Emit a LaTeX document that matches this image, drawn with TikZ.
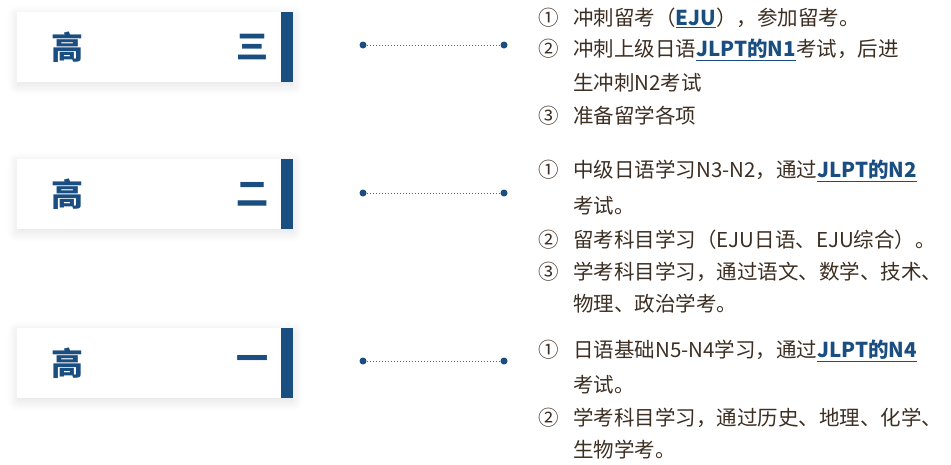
\documentclass[tikz,border=0pt]{standalone}
\usepackage{fontspec}
\setmainfont{Noto Sans CJK SC}
\usetikzlibrary{shadows.blur,positioning}
\definecolor{navy}{HTML}{1A4E80}
\definecolor{ink}{HTML}{3C2E22}
\newcommand{\kw}[1]{\textcolor{navy}{\bfseries\underline{#1}}}
\newcommand{\nr}[1]{\makebox[35pt][l]{#1}}
\begin{document}
\begin{tikzpicture}[x=1pt,y=-1pt,
gradebox/.style={fill=white,minimum width=276pt,minimum height=70pt,anchor=north west,blur shadow={shadow blur steps=12,shadow blur radius=10pt,shadow xshift=0pt,shadow yshift=-3pt,shadow opacity=12}},
gradetext/.style={text=navy,font=\fontsize{32}{32}\selectfont\bfseries},
dotend/.style={circle,fill=navy,inner sep=0pt,minimum size=7pt},
item/.style={anchor=west,text=ink,font=\fontsize{20.5}{20.5}\selectfont,inner sep=0pt}]
\useasboundingbox (0,0) rectangle (951,464);
\clip (0,0) rectangle (951,464);
% grade boxes
\foreach \name/\num/\y/\ly in {g3/三/12/45, g2/二/159/193, g1/一/328/361}{
  \node[gradebox] (\name) at (17,\y) {};
  \fill[navy] (281,\y) rectangle ++(12,70);
  \node[gradetext] at (67,\y+35) {高};
  \node[gradetext] at (252,\y+35) {\num};
  \node[dotend] (\name l) at (363,\ly) {};
  \node[dotend] (\name r) at (504,\ly) {};
  \draw[navy!80,dotted,line width=1pt] (\name l) -- (\name r);
}
% items, senior 3
\node[item] (a1) at (538,18) {\nr{①}冲刺留考（\kw{EJU}），参加留考。};
\node[item] (a2) at (538,50) {\nr{②}冲刺上级日语\kw{JLPT的N1}考试，后进};
\node[item] (a3) at (573,83) {生冲刺N2考试};
\node[item] (a4) at (538,116) {\nr{③}准备留学各项};
% senior 2
\node[item] (b1) at (538,171) {\nr{①}中级日语学习N3-N2，通过\kw{JLPT的N2}};
\node[item] (b2) at (573,206) {考试。};
\node[item] (b3) at (538,240) {\nr{②}留考科目学习（EJU日语、EJU综合）。};
\node[item] (b4) at (538,272) {\nr{③}学考科目学习，通过语文、数学、技术、};
\node[item] (b5) at (573,304) {物理、政治学考。};
% senior 1
\node[item] (c1) at (538,351) {\nr{①}日语基础N5-N4学习，通过\kw{JLPT的N4}};
\node[item] (c2) at (573,385) {考试。};
\node[item] (c3) at (538,418) {\nr{②}学考科目学习，通过历史、地理、化学、};
\node[item] (c4) at (573,450) {生物学考。};
\end{tikzpicture}
\end{document}
